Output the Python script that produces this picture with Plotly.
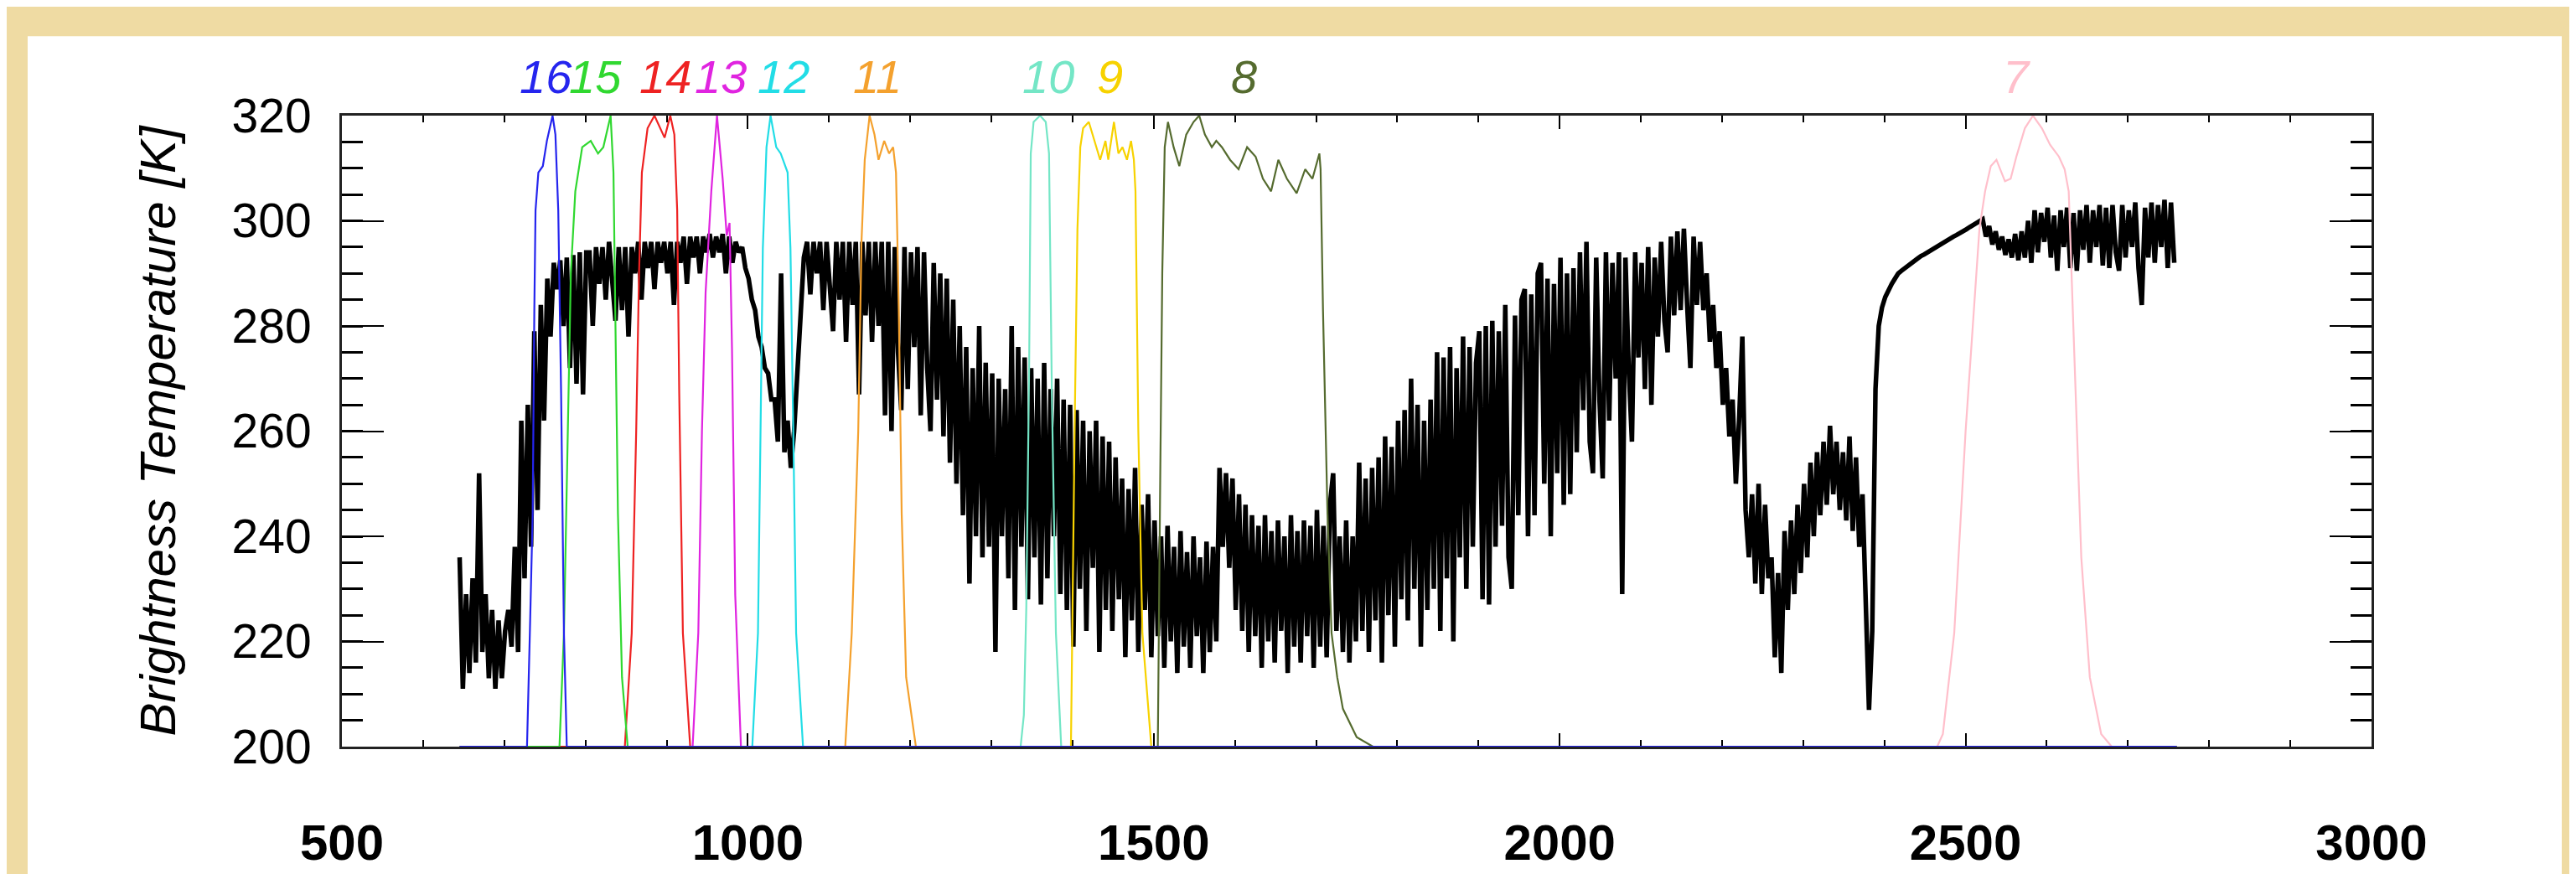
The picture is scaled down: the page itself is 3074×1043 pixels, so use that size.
import plotly.graph_objects as go

# ---------------- axes ----------------
x_range = [500, 3000]
y_range = [200, 320]
x_ticks = [500, 1000, 1500, 2000, 2500, 3000]
y_ticks = [200, 220, 240, 260, 280, 300, 320]
y_title = "Brightness Temperature [K]"

SPEC_STEP = 4.0
spec_seg_start = [645, 705, 805, 1001, 1073, 1237, 1305, 1337, 1389, 1445, 1497, 1581,
                  1617, 1753, 1805, 1857, 1909, 1961, 2017, 2065, 2121, 2181, 2225, 2261,
                  2277, 2385, 2525, 2585]
bt_645 = [236, 211, 229, 214, 232, 216, 252, 218, 229, 213, 226, 211, 224, 213, 222]
bt_705 = [226, 219, 238, 218, 262, 232, 265, 238, 279, 245, 284, 262, 289, 278, 292, 287,
          292.5, 280, 293, 272, 293.5, 269, 294, 267, 294]
bt_805 = [294, 280, 295, 288, 295, 285, 296, 287, 281, 295, 283, 295, 278, 295, 290, 296,
          285, 296, 291, 296, 287, 296, 292, 296, 290, 296, 284, 296, 292, 297, 288, 297,
          293, 297, 290, 297, 294, 297.5, 293, 297, 294, 297.5, 290, 297, 292, 296, 294,
          295, 291]
bt_1001 = [289, 285, 283, 278, 276, 272, 271, 266, 266, 258, 290, 256, 262, 253, 260, 272,
           285, 293]
bt_1073 = [296, 286, 296, 290, 296, 283, 296, 288, 279, 296, 285, 296, 277, 296, 284, 296,
           267, 296, 282, 296, 277, 296, 280, 296, 263, 296, 260, 295, 275, 264, 295, 268,
           294, 276, 295, 263, 294, 272, 260, 292, 266]
bt_1237 = [290, 259, 289, 254, 285, 250, 280, 244, 276, 231, 272, 240, 280, 236, 273, 238,
           271]
bt_1305 = [218, 270, 240, 268, 232, 280, 226, 276]
bt_1337 = [238, 274, 228, 272, 236, 270, 227, 273, 232, 268, 240, 270, 229]
bt_1389 = [266, 226, 265, 219, 264, 230, 262, 222, 260, 234, 262, 218, 259, 226]
bt_1445 = [258, 222, 255, 228, 251, 217, 249, 224, 253, 218, 246, 226, 248]
bt_1497 = [217, 243, 221, 240, 215, 242, 220, 238, 214, 241, 219, 237, 215, 240, 221, 236,
           214, 239, 218, 238, 220]
bt_1581 = [253, 238, 252, 234, 251, 226, 248, 222, 246]
bt_1617 = [218, 244, 221, 242, 215, 244, 220, 241, 216, 243, 222, 240, 214, 244, 219, 241,
           216, 243, 221, 242, 215, 245, 219, 242, 217, 246, 252, 222, 240, 218, 243, 216,
           240, 220]
bt_1753 = [254, 222, 251, 218, 253, 224, 255, 216, 259, 225, 257, 219, 262]
bt_1805 = [228, 264, 224, 270, 230, 265, 219, 262, 226, 266, 230, 275, 222]
bt_1857 = [274, 232, 276, 220, 272, 236, 278, 230, 276, 238, 273, 279, 228]
bt_1909 = [280, 227, 281, 238, 279, 242, 284, 236, 230, 282, 244, 285, 287]
bt_1961 = [240, 286, 244, 290, 292, 250, 289, 240, 288, 252, 293, 246, 290, 248]
bt_2017 = [291, 256, 294, 264, 296, 258, 252, 293, 266, 251, 294, 262]
bt_2065 = [292, 270, 294, 229, 293, 272, 258, 294, 274, 292, 268, 295, 265, 293]
bt_2121 = [278, 296, 281, 275, 297, 282, 298, 283, 298.5, 284, 272, 297, 284, 296, 283]
bt_2181 = [290, 277, 284, 272, 279, 265, 272, 259, 266, 250, 262]
bt_2225 = [278, 245, 236, 248, 231, 250, 229, 246, 232]
bt_2261 = [236, 217, 233, 214]
bt_2277 = [241, 226, 243, 229, 246, 233, 250, 236, 254, 240, 256, 244, 258, 246, 261, 248,
           258, 245, 256, 243, 259, 241, 255, 238, 248, 228, 207]
bt_2385 = [222, 268, 280, 283.5, 285.5, 287, 288, 289, 290, 290.5, 291, 291.5, 292, 292.5,
           293, 293.3, 293.6, 294, 294.3, 294.6, 295, 295.4, 295.8, 296.2, 296.6, 297,
           297.3, 297.6, 298, 298.4, 298.8, 299.2, 299.6, 300, 300.3]
bt_2525 = [297, 299, 295.5, 298, 294.5, 297, 293.5, 296.5, 293, 297.5, 292.5, 298, 293, 300,
           292]
bt_2585 = [302, 294, 301.5, 296, 302.5, 293, 301, 290.5, 302, 295, 302.5, 291, 301.5, 290.5,
           302, 294.5, 303, 292, 302, 295, 303, 291.5, 302.5, 291, 303, 294, 290.5, 303, 293,
           302, 295, 303.5, 291, 284, 302.5, 293, 303.5, 292, 303, 295, 304, 291, 303.5, 292]
spec_seg_values = [bt_645, bt_705, bt_805, bt_1001, bt_1073, bt_1237, bt_1305, bt_1337,
                   bt_1389, bt_1445, bt_1497, bt_1581, bt_1617, bt_1753, bt_1805, bt_1857,
                   bt_1909, bt_1961, bt_2017, bt_2065, bt_2121, bt_2181, bt_2225, bt_2261,
                   bt_2277, bt_2385, bt_2525, bt_2585]

# ---------------- ABI spectral response functions (normalised) ----------------
band_ids = ["7", "8", "9", "10", "11", "12", "13", "14", "15", "16"]
band_colors = ["#FFBFCB", "#556B2F", "#F7D200", "#74E6C6", "#F4A12E", "#22DDE6",
               "#E024E0", "#EE2222", "#30D830", "#2525EE"]
band_label_wn = [2563, 1611, 1446, 1370, 1160, 1044, 967, 898, 812, 751]

srf7_wn = [645, 2465, 2472, 2486, 2500, 2510, 2517, 2524, 2531, 2538, 2548.5, 2555.5, 2562.5,
           2573, 2583, 2594, 2604, 2615, 2622, 2627, 2630.5, 2635.5, 2642.5, 2653, 2667, 2680, 2760]
srf7_r = [0, 0, 0.02, 0.18, 0.50, 0.69, 0.82, 0.88, 0.92, 0.93, 0.896, 0.90, 0.935,
          0.98, 1.0, 0.98, 0.954, 0.935, 0.915, 0.88, 0.754, 0.56, 0.30, 0.11, 0.02, 0, 0]
srf8_wn = [645, 1505, 1508, 1510.5, 1513.5, 1517.5, 1524.5, 1531.5, 1540, 1549, 1556, 1563,
           1571.5, 1577, 1584, 1594, 1604.5, 1615, 1625.5, 1634.5, 1644.5, 1653.5, 1664, 1676,
           1686.5, 1695.5, 1704, 1705.5, 1708.5, 1714, 1719, 1726, 1733, 1750, 1770, 2760]
srf8_r = [0, 0, 0.43, 0.75, 0.95, 0.99, 0.95, 0.92, 0.97, 0.99, 1.0, 0.97, 0.95, 0.96, 0.95,
          0.93, 0.915, 0.95, 0.935, 0.90, 0.88, 0.93, 0.90, 0.877, 0.915, 0.90, 0.94, 0.915,
          0.69, 0.37, 0.18, 0.11, 0.06, 0.015, 0, 0]
srf9_wn = [645, 1398, 1402.5, 1406, 1409.5, 1413, 1420, 1427, 1434, 1440.5, 1444, 1451,
           1456.5, 1461.5, 1467, 1472, 1475.5, 1477.5, 1481, 1486, 1497, 2760]
srf9_r = [0, 0, 0.50, 0.82, 0.95, 0.98, 0.99, 0.96, 0.93, 0.96, 0.93, 0.99, 0.94, 0.95, 0.93,
          0.96, 0.93, 0.88, 0.50, 0.18, 0, 0]
srf10_wn = [645, 1336, 1340, 1343, 1346.5, 1348.5, 1352, 1360, 1367, 1371, 1374.5, 1379.5,
            1386, 2760]
srf10_r = [0, 0, 0.05, 0.22, 0.60, 0.94, 0.99, 1.0, 0.99, 0.94, 0.56, 0.18, 0, 0]
srf11_wn = [645, 1120, 1128, 1136, 1140, 1144, 1150, 1156, 1161, 1168, 1174, 1179, 1182.5,
            1186, 1189.5, 1195, 1207, 2760]
srf11_r = [0, 0, 0.18, 0.50, 0.80, 0.93, 1.0, 0.97, 0.93, 0.96, 0.94, 0.95, 0.91, 0.69, 0.37,
           0.11, 0, 0]
srf12_wn = [645, 1005.5, 1012.5, 1016, 1018.5, 1023, 1028, 1035, 1040.5, 1049, 1052.5, 1056,
            1059.5, 1068, 2760]
srf12_r = [0, 0, 0.18, 0.50, 0.79, 0.95, 1.0, 0.95, 0.94, 0.91, 0.79, 0.50, 0.18, 0, 0]
srf13_wn = [645, 932, 939, 943.5, 948, 955, 962, 969, 974, 977.5, 980.5, 984.5, 991.5, 2760]
srf13_r = [0, 0, 0.18, 0.50, 0.72, 0.88, 1.0, 0.90, 0.81, 0.83, 0.63, 0.24, 0, 0]
srf14_wn = [645, 848.5, 857, 862.5, 866, 869.5, 876.5, 885, 897.5, 904.5, 909.5, 913, 915.5,
            920, 929, 2760]
srf14_r = [0, 0, 0.18, 0.50, 0.75, 0.91, 0.98, 1.0, 0.965, 1.0, 0.97, 0.85, 0.56, 0.18, 0, 0]
srf15_wn = [645, 768, 773.5, 778.5, 782, 787.5, 796, 806.5, 815.5, 822, 831, 834.5, 836.5,
            840, 845, 852, 2760]
srf15_r = [0, 0, 0.18, 0.50, 0.75, 0.88, 0.95, 0.96, 0.94, 0.95, 1.0, 0.91, 0.69, 0.37, 0.11,
           0, 0]
srf16_wn = [645, 728, 731.5, 735, 737, 738.5, 742, 747.5, 752.5, 759.5, 763, 766.5, 770,
            773.5, 777, 2760]
srf16_r = [0, 0, 0.18, 0.37, 0.69, 0.85, 0.91, 0.92, 0.96, 1.0, 0.97, 0.85, 0.56, 0.18, 0, 0]
srf_wn = [srf7_wn, srf8_wn, srf9_wn, srf10_wn, srf11_wn, srf12_wn, srf13_wn, srf14_wn,
          srf15_wn, srf16_wn]
srf_r = [srf7_r, srf8_r, srf9_r, srf10_r, srf11_r, srf12_r, srf13_r, srf14_r, srf15_r, srf16_r]
SRF_BASE = 200.0   # response 0 drawn at 200 K
SRF_SPAN = 120.0   # response 1 drawn at 320 K

# ---------------- build figure ----------------
FONT = "Liberation Sans, Arial, Helvetica, sans-serif"
BEIGE = "#EFDBA3"

spec_wn, spec_bt = [], []
for start, vals in zip(spec_seg_start, spec_seg_values):
    for i, v in enumerate(vals):
        spec_wn.append(start + SPEC_STEP * i)
        spec_bt.append(v)

fig = go.Figure()
fig.add_trace(go.Scatter(x=spec_wn, y=spec_bt, mode="lines",
                         line=dict(color="black", width=5.5), hoverinfo="skip"))

for bid, col, wn, rr in zip(band_ids, band_colors, srf_wn, srf_r):
    fig.add_trace(go.Scatter(x=wn, y=[SRF_BASE + SRF_SPAN * r for r in rr], mode="lines",
                             line=dict(color=col, width=2.2), name=bid, hoverinfo="skip"))

for bid, col, wn in zip(band_ids, band_colors, band_label_wn):
    fig.add_annotation(x=wn, y=1.062, xref="x", yref="paper", text=bid, showarrow=False,
                       xanchor="center", yanchor="middle",
                       font=dict(family=FONT, size=56, color=col, style="italic"))

W, H = 3074, 1043
L, R, T, B = 400, 252, 130, 110
pw, ph = W - L - R, H - T - B
# beige page border around the white panel (left, top, right strips)
px_left, px_top, px_right = 25, 29, 3049
for x0, x1, y0, y1 in [(-1.0, (px_left - L) / pw, -1.0, 2.0),
                       (-1.0, 2.0, (H - B - px_top) / ph, 2.0),
                       ((px_right - L) / pw, 2.0, -1.0, 2.0)]:
    fig.add_shape(type="rect", xref="paper", yref="paper", layer="below",
                  x0=x0, x1=x1, y0=y0, y1=y1, fillcolor=BEIGE, line=dict(width=0))

fig.update_layout(
    width=W, height=H,
    margin=dict(l=L, r=R, t=T, b=B, pad=0),
    paper_bgcolor="white",
    plot_bgcolor="white",
    showlegend=False,
    hovermode=False,
    font=dict(family=FONT, color="black"),
)
fig.update_xaxes(
    range=x_range, tickmode="array", tickvals=x_ticks, ticktext=[str(v) for v in x_ticks],
    ticks="inside", ticklen=16, tickwidth=2, tickcolor="black",
    minor=dict(ticks="inside", dtick=100, tick0=0, ticklen=8, tickwidth=2, tickcolor="black"),
    showline=True, linewidth=3, linecolor="#222", mirror="ticks",
    showgrid=False, zeroline=False, layer="below traces",
    tickfont=dict(family=FONT, size=60, color="black", weight="bold"),
    ticklabelstandoff=60,
)
fig.update_yaxes(
    range=y_range, tickmode="array", tickvals=y_ticks, ticktext=[str(v) for v in y_ticks],
    ticks="inside", ticklen=50, tickwidth=2, tickcolor="black",
    minor=dict(ticks="inside", dtick=5, tick0=0, ticklen=25, tickwidth=2.5, tickcolor="black"),
    showline=True, linewidth=3, linecolor="#222", mirror="ticks",
    showgrid=False, zeroline=False, layer="below traces",
    tickfont=dict(family=FONT, size=57, color="black"),
    ticklabelstandoff=22,
    title=dict(text=y_title, standoff=48,
               font=dict(family=FONT, size=60, color="black", style="italic")),
)

fig.write_html("out.html")
